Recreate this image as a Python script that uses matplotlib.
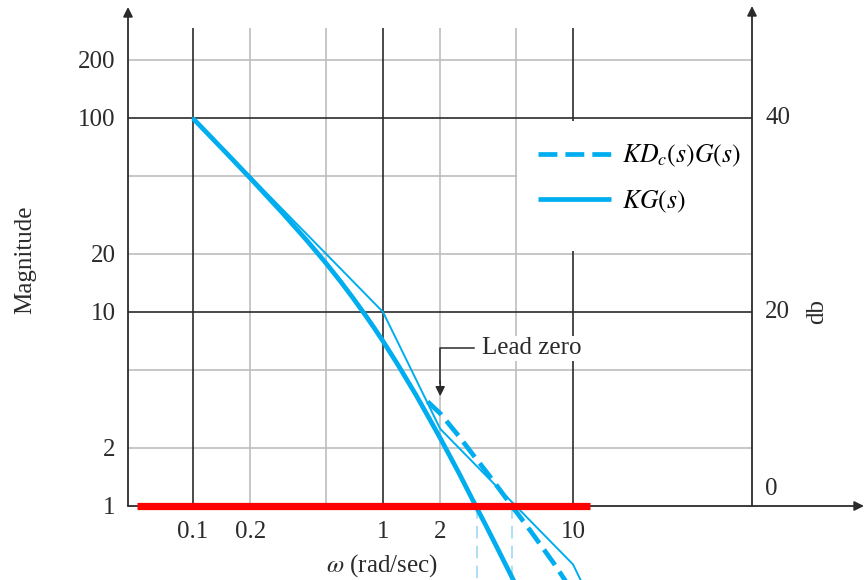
import matplotlib
matplotlib.use('Agg')
import matplotlib.pyplot as plt
from matplotlib.patches import Rectangle

plt.rcParams['font.family'] = ['Liberation Serif', 'DejaVu Serif']
plt.rcParams['mathtext.fontset'] = 'stix'

# ---------------- data ----------------
w_kg = [0.1, 0.15, 0.2, 0.3, 0.4, 0.5, 0.6, 0.7, 0.8, 0.9, 1.0, 1.2, 1.5, 1.75,
        2.0, 2.5, 3.0, 3.5, 4.0, 5.0, 6.0]
mag_kg = [99.5, 65.9, 49.0, 31.9, 23.2, 17.9, 14.3, 11.7, 9.76, 8.26, 7.07, 5.33,
          3.70, 2.83, 2.24, 1.49, 1.05, 0.785, 0.606, 0.392, 0.274]

w_kdg = [1.72, 1.85, 2.0, 2.5, 3.0, 3.5, 4.0, 5.0, 6.0, 7.0, 8.0, 9.0, 10.0, 11.0]
mag_kdg = [3.45, 3.22, 3.0, 2.3, 1.82, 1.5, 1.26, 0.94, 0.74, 0.60, 0.50, 0.42,
           0.36, 0.31]

w_asym = [0.1, 1.0, 2.0, 10.0, 20.0]
mag_asym = [100.0, 10.0, 2.5, 0.5, 0.125]

w_cross = [3.12, 4.8]
unity_mag = 1.0
unity_w = [0.0507, 12.3]

x_ticks = [0.1, 0.2, 1, 2, 10]
x_ticklabels = ['0.1', '0.2', '1', '2', '10']
y_ticks = [1, 2, 10, 20, 100, 200]
y_ticklabels = ['1', '2', '10', '20', '100', '200']
db_ticks = [1, 10, 100]
db_labels = ['0', '20', '40']

grid_dark_x = [0.1, 1, 10]
grid_light_x = [0.2, 0.5, 2, 5]
grid_dark_y = [10, 100]
grid_light_y = [2, 5, 20, 50, 200]

lead_zero_w = 2.0

# ---------------- figure ----------------
W, H = 864, 580
fig = plt.figure(figsize=(W / 100, H / 100), dpi=100)
L, R, B, T = 128, 752, 506, 28
ax = fig.add_axes([L / W, 1 - B / H, (R - L) / W, (B - T) / H])
ax.set_xscale('log')
ax.set_yscale('log')
ax.set_xlim(10 ** (-1 - (193 - L) / 190), 10 ** (1 + (R - 573) / 190))
ax.set_ylim(1, 10 ** (2 + (118 - T) / 194))

for s in ax.spines.values():
    s.set_visible(False)

blue = '#00aeef'
light_blue = '#a6dcf5'
dark = '#2b2b2b'
gray = '#bdbdbd'

# grid
for v in grid_light_x:
    ax.axvline(v, color=gray, lw=1.2, zorder=1)
for v in grid_dark_x:
    ax.axvline(v, color=dark, lw=1.2, zorder=1.1)
for v in grid_light_y:
    ax.axhline(v, color=gray, lw=1.2, zorder=1)
for v in grid_dark_y:
    ax.axhline(v, color=dark, lw=1.2, zorder=1.1)

# white legend area
ax.add_patch(Rectangle((5.06, 20.6), 87.5 - 5.06, 97.0 - 20.6, facecolor='white',
                       edgecolor='none', zorder=1.5))

# axes lines with arrows
arrow_kw = dict(arrowstyle='-|>', mutation_scale=14, lw=1.3, color=dark,
                shrinkA=0, shrinkB=0)
ax.annotate('', xy=(0, 1 + 21 / (B - T)), xytext=(0, 0), xycoords='axes fraction',
            textcoords='axes fraction', arrowprops=arrow_kw, annotation_clip=False)
ax.annotate('', xy=(1, 1 + 22 / (B - T)), xytext=(1, 0), xycoords='axes fraction',
            textcoords='axes fraction', arrowprops=arrow_kw, annotation_clip=False)
ax.annotate('', xy=((864 - L) / (R - L), 0), xytext=(0, 0), xycoords='axes fraction',
            textcoords='axes fraction', arrowprops=arrow_kw, annotation_clip=False)

# curves
ax.plot(w_asym, mag_asym, color=blue, lw=1.4, zorder=3, clip_on=False)
ax.plot(w_kg, mag_kg, color=blue, lw=3.4, zorder=4, clip_on=False,
        solid_capstyle='butt', label=r'$KG(s)$')
ax.plot(w_kdg, mag_kdg, color=blue, lw=3.4, zorder=4, clip_on=False,
        dashes=(4.0, 1.7), label=r'$KD_c(s)G(s)$')

# crossover markers
for wc in w_cross:
    ax.plot([wc, wc], [unity_mag, 0.3], color=light_blue, lw=1.3, dashes=(7, 4),
            zorder=2, clip_on=False)

# unity line
ax.plot(unity_w, [unity_mag, unity_mag], color='#ff0000', lw=5.2, zorder=6,
        clip_on=False, solid_capstyle='butt')

# legend
handles, labels = ax.get_legend_handles_labels()
leg = ax.legend(handles[::-1], labels[::-1], loc='upper left',
                bbox_to_anchor=(538 / W, 1 - 143 / H), bbox_transform=fig.transFigure,
                frameon=False, fontsize=18.5, handlelength=2.85, handletextpad=0.4,
                labelspacing=0.75, borderpad=0, borderaxespad=0)
leg.set_zorder(7)

# ticks
ax.set_xticks(x_ticks)
ax.set_xticklabels(x_ticklabels)
ax.set_yticks(y_ticks)
ax.set_yticklabels(y_ticklabels)
ax.minorticks_off()
ax.tick_params(axis='x', length=0, pad=11, labelsize=18, labelcolor=dark)
ax.tick_params(axis='y', length=0, pad=9, labelsize=18, labelcolor=dark)

# right dB labels
ytrans = ax.get_yaxis_transform()
for v, lab in zip(db_ticks, db_labels):
    off = 1.22 if lab == '0' else 1.0
    ax.text(1 + 13 / (R - L), v * off, lab, transform=ytrans, ha='left', va='center',
            fontsize=18, color=dark, clip_on=False)

# lead zero annotation
y_lab = 6.5
ax.text(3.32, y_lab, 'Lead zero', ha='left', va='center', fontsize=18, color=dark,
        zorder=5, bbox=dict(facecolor='white', edgecolor='none', pad=1))
ax.plot([3.0, lead_zero_w, lead_zero_w], [y_lab, y_lab, 4.3], color=dark, lw=1.1, zorder=5)
ax.annotate('', xy=(lead_zero_w, 3.68), xytext=(lead_zero_w, 4.4),
            arrowprops=dict(arrowstyle='-|>', mutation_scale=14, lw=1.1, color=dark,
                            shrinkA=0, shrinkB=0), zorder=5)

# axis titles
fig.text(25 / W, 1 - 260 / H, 'Magnitude', rotation=90, ha='center', va='center',
         fontsize=18, color=dark)
fig.text(817 / W, 1 - 312 / H, 'db', rotation=90, ha='center', va='center',
         fontsize=18, color=dark)
fig.text(382 / W, 1 - 566 / H, r'$\omega$ (rad/sec)', ha='center', va='center',
         fontsize=18, color=dark)

fig.savefig('out.png', dpi=100)
